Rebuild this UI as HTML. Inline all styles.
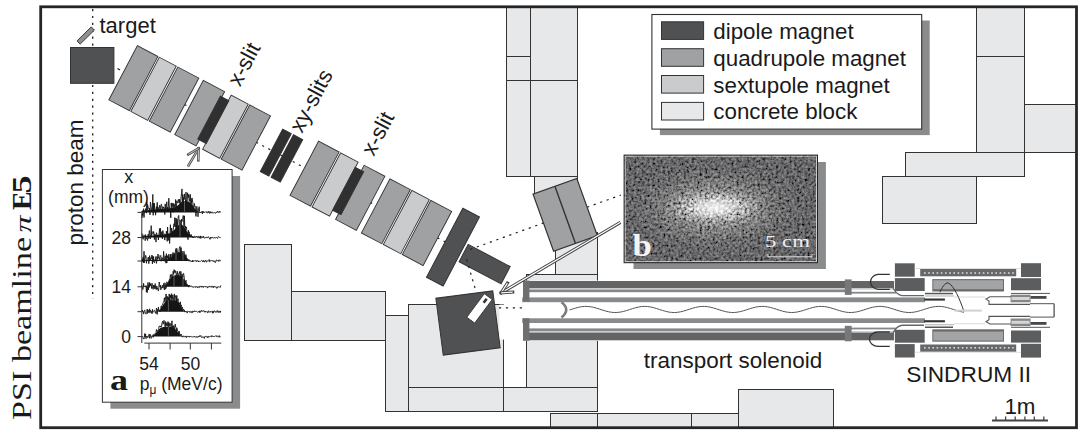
<!DOCTYPE html>
<html><head><meta charset="utf-8"><style>html,body{margin:0;padding:0;background:#fff;overflow:hidden}svg{display:block}</style></head>
<body><svg width="1085" height="436" viewBox="0 0 1085 436">
<rect width="1085" height="436" fill="#fff"/>
<rect x="506.5" y="7.5" width="24.0" height="49.0" fill="#e7e8ea" stroke="#333" stroke-width="1.0"/>
<rect x="506.5" y="56.5" width="24.0" height="24.0" fill="#e7e8ea" stroke="#333" stroke-width="1.0"/>
<rect x="530.5" y="7.5" width="47.0" height="73.0" fill="#e7e8ea" stroke="#333" stroke-width="1.0"/>
<rect x="506.5" y="80.5" width="24.0" height="96.0" fill="#e7e8ea" stroke="#333" stroke-width="1.0"/>
<rect x="530.5" y="80.5" width="47.0" height="96.0" fill="#e7e8ea" stroke="#333" stroke-width="1.0"/>
<rect x="534.5" y="176.5" width="43.0" height="20.0" fill="#e7e8ea" stroke="#333" stroke-width="1.0"/>
<rect x="555.5" y="232.5" width="42.0" height="42.0" fill="#e7e8ea" stroke="#333" stroke-width="1.0"/>
<rect x="526.5" y="274.5" width="71.0" height="113.0" fill="#e7e8ea" stroke="#333" stroke-width="1.0"/>
<rect x="244.5" y="244.5" width="47.0" height="96.0" fill="#e7e8ea" stroke="#333" stroke-width="1.0"/>
<rect x="291.5" y="291.5" width="94.0" height="49.0" fill="#e7e8ea" stroke="#333" stroke-width="1.0"/>
<rect x="385.5" y="315.5" width="23.0" height="96.0" fill="#e7e8ea" stroke="#333" stroke-width="1.0"/>
<rect x="408.5" y="304.5" width="95.0" height="83.0" fill="#e7e8ea" stroke="#333" stroke-width="1.0"/>
<rect x="408.5" y="387.5" width="95.0" height="24.0" fill="#e7e8ea" stroke="#333" stroke-width="1.0"/>
<rect x="503.5" y="387.5" width="94.0" height="24.0" fill="#e7e8ea" stroke="#333" stroke-width="1.0"/>
<rect x="550.5" y="413.5" width="47.0" height="15.0" fill="#e7e8ea" stroke="#333" stroke-width="1.0"/>
<rect x="597.5" y="413.5" width="94.0" height="15.0" fill="#e7e8ea" stroke="#333" stroke-width="1.0"/>
<rect x="691.5" y="413.5" width="47.0" height="15.0" fill="#e7e8ea" stroke="#333" stroke-width="1.0"/>
<rect x="738.5" y="389.5" width="95.0" height="39.0" fill="#e7e8ea" stroke="#333" stroke-width="1.0"/>
<rect x="976.5" y="7.5" width="48.0" height="49.0" fill="#e7e8ea" stroke="#333" stroke-width="1.0"/>
<rect x="976.5" y="56.5" width="48.0" height="96.0" fill="#e7e8ea" stroke="#333" stroke-width="1.0"/>
<rect x="1024.5" y="104.5" width="52.0" height="48.0" fill="#e7e8ea" stroke="#333" stroke-width="1.0"/>
<rect x="905.5" y="152.5" width="119.0" height="24.0" fill="#e7e8ea" stroke="#333" stroke-width="1.0"/>
<rect x="882.5" y="176.5" width="94.0" height="47.0" fill="#e7e8ea" stroke="#333" stroke-width="1.0"/>
<rect x="499.5" y="304.6" width="5" height="35" fill="#fff"/>
<line x1="92.7" y1="9" x2="92.7" y2="299" stroke="#222" stroke-width="1.3" stroke-dasharray="2.2 4.7"/>
<rect x="70.5" y="47.5" width="43.4" height="35.8" fill="#505153" stroke="#333" stroke-width="1"/>
<g transform="translate(85.7,35.5) rotate(-44.5)"><rect x="-10" y="-2.25" width="20" height="4.5" fill="#8e8f91" stroke="#333" stroke-width="0.9"/></g>
<line x1="117.5" y1="68.5" x2="120" y2="70" stroke="#222" stroke-width="1.2"/>
<g transform="translate(137.4,45.7) rotate(27.8)">
<line x1="150" y1="30" x2="205" y2="30" stroke="#222" stroke-width="1.2" stroke-dasharray="2.2 4.7"/>
<line x1="355" y1="30" x2="364" y2="30" stroke="#222" stroke-width="1.2" stroke-dasharray="2.2 4.7"/>
<line x1="69" y1="30" x2="75" y2="30" stroke="#222" stroke-width="1.2" stroke-dasharray="2.2 4.7"/>
<line x1="279" y1="30" x2="286" y2="30" stroke="#222" stroke-width="1.2" stroke-dasharray="2.2 4.7"/>
<rect x="0.00" y="0.00" width="23.20" height="61.20" fill="#a0a1a3" stroke="#333" stroke-width="0.9"/>
<rect x="24.80" y="0.00" width="19.10" height="61.20" fill="#cacbcd" stroke="#333" stroke-width="0.9"/>
<rect x="45.70" y="0.00" width="23.70" height="61.20" fill="#a0a1a3" stroke="#333" stroke-width="0.9"/>
<rect x="74.50" y="0.00" width="24.10" height="61.20" fill="#a0a1a3" stroke="#333" stroke-width="0.9"/>
<rect x="106.00" y="0.00" width="19.30" height="61.20" fill="#cacbcd" stroke="#333" stroke-width="0.9"/>
<rect x="127.00" y="0.00" width="23.50" height="61.20" fill="#a0a1a3" stroke="#333" stroke-width="0.9"/>
<rect x="204.80" y="0.00" width="23.20" height="61.20" fill="#a0a1a3" stroke="#333" stroke-width="0.9"/>
<rect x="229.70" y="0.00" width="19.80" height="61.20" fill="#cacbcd" stroke="#333" stroke-width="0.9"/>
<rect x="256.30" y="0.00" width="23.50" height="61.20" fill="#a0a1a3" stroke="#333" stroke-width="0.9"/>
<rect x="285.50" y="0.00" width="23.10" height="61.20" fill="#a0a1a3" stroke="#333" stroke-width="0.9"/>
<rect x="310.30" y="0.00" width="19.70" height="61.20" fill="#cacbcd" stroke="#333" stroke-width="0.9"/>
<rect x="331.70" y="0.00" width="23.60" height="61.20" fill="#a0a1a3" stroke="#333" stroke-width="0.9"/>
<rect x="97.00" y="6.00" width="9.50" height="48.50" fill="#303030" stroke="#333" stroke-width="1.0"/>
<rect x="249.40" y="6.00" width="9.50" height="48.50" fill="#303030" stroke="#333" stroke-width="1.0"/>
<rect x="167.40" y="6.00" width="9.70" height="48.00" fill="#303030" stroke="#333" stroke-width="1.0"/>
<rect x="179.60" y="6.00" width="10.40" height="48.00" fill="#303030" stroke="#333" stroke-width="1.0"/>
<rect x="363.70" y="-8.00" width="18.80" height="78.00" fill="#505153" stroke="#333" stroke-width="1.0"/>
<rect x="385.30" y="21.50" width="47.50" height="19.50" fill="#505153" stroke="#333" stroke-width="1.0"/>
</g>
<line x1="470.3" y1="249.4" x2="621" y2="195" stroke="#222" stroke-width="1.2" stroke-dasharray="2.2 4.7"/>
<line x1="466.6" y1="259.4" x2="475" y2="288" stroke="#222" stroke-width="1.2" stroke-dasharray="2.2 4.7"/>
<line x1="499" y1="307.8" x2="524" y2="307.8" stroke="#222" stroke-width="1.2" stroke-dasharray="2.2 4.7"/>
<g transform="translate(565.2,214.9) rotate(-19.8)"><rect x="-23.25" y="-30.35" width="46.5" height="60.7" fill="#a0a1a3" stroke="#333" stroke-width="1.2"/><line x1="0" y1="-30.35" x2="0" y2="30.35" stroke="#333" stroke-width="1.4"/></g>
<g transform="translate(468,323) rotate(-7.4)"><rect x="-28.7" y="-28.7" width="57.4" height="57.4" fill="#505153" stroke="#333" stroke-width="1"/></g>
<g transform="translate(479.5,308.4) rotate(-53.4)"><rect x="-14.7" y="-4.9" width="29.4" height="9.8" fill="#fff" stroke="#333" stroke-width="0.8"/><rect x="7" y="-1.3" width="5" height="2.6" fill="#333"/></g>
<rect x="522.0" y="280.6" width="372.0" height="60.4" fill="#fff"/>
<rect x="529.0" y="281.0" width="365.0" height="7.2" fill="#636466"/>
<rect x="529.0" y="288.2" width="365.0" height="1.4" fill="#c4c5c7"/>
<rect x="529.0" y="289.6" width="322.0" height="2.6" fill="#858688"/>
<rect x="851.0" y="291.8" width="45.0" height="1.8" fill="#858688"/>
<rect x="522.2" y="297.4" width="402.8" height="4.8" fill="#898a8c"/>
<rect x="523.0" y="280.6" width="6.4" height="20.9" fill="#6e6f71"/>
<rect x="844.8" y="279.4" width="6.8" height="15.5" fill="#77787a"/>
<rect x="522.2" y="318.3" width="402.8" height="4.7" fill="#898a8c"/>
<rect x="529.0" y="328.4" width="322.0" height="2.8" fill="#858688"/>
<rect x="851.0" y="327.6" width="45.0" height="1.8" fill="#858688"/>
<rect x="529.0" y="331.2" width="365.0" height="1.4" fill="#c4c5c7"/>
<rect x="529.0" y="332.6" width="365.0" height="7.7" fill="#636466"/>
<rect x="523.0" y="318.3" width="6.4" height="22.5" fill="#6e6f71"/>
<rect x="844.8" y="325.8" width="6.8" height="15.5" fill="#77787a"/>
<path d="M889.8,274.4 H878 A8.5,7.5 0 0 0 878,289.3 H889.8" fill="none" stroke="#333" stroke-width="1.3"/>
<path d="M889.8,332 H878 A8.5,7.2 0 0 0 878,346.4 H889.8" fill="none" stroke="#333" stroke-width="1.3"/>
<path d="M561.5,302.3 Q571,309.5 561.5,317.5" fill="none" stroke="#7a7b7d" stroke-width="2.6"/>
<polyline points="569.5,310.00 571.0,309.52 572.5,309.03 574.0,308.55 575.5,308.10 577.0,307.68 578.5,307.30 580.0,306.99 581.5,306.73 583.0,306.55 584.5,306.43 586.0,306.40 587.5,306.44 589.0,306.57 590.5,306.76 592.0,307.03 593.5,307.35 595.0,307.73 596.5,308.16 598.0,308.61 599.5,309.09 601.0,309.58 602.5,310.06 604.0,310.53 605.5,310.98 607.0,311.38 608.5,311.73 610.0,312.02 611.5,312.25 613.0,312.41 614.5,312.49 616.0,312.49 617.5,312.42 619.0,312.26 620.5,312.04 622.0,311.75 623.5,311.40 625.0,311.00 626.5,310.56 628.0,310.10 629.5,309.61 631.0,309.12 632.5,308.64 634.0,308.19 635.5,307.76 637.0,307.38 638.5,307.05 640.0,306.78 641.5,306.58 643.0,306.45 644.5,306.40 646.0,306.43 647.5,306.54 649.0,306.72 650.5,306.97 652.0,307.28 653.5,307.65 655.0,308.07 656.5,308.52 658.0,309.00 659.5,309.48 661.0,309.97 662.5,310.44 664.0,310.89 665.5,311.30 667.0,311.66 668.5,311.97 670.0,312.21 671.5,312.38 673.0,312.48 674.5,312.50 676.0,312.44 677.5,312.30 679.0,312.09 680.5,311.81 682.0,311.48 683.5,311.09 685.0,310.65 686.5,310.19 688.0,309.71 689.5,309.22 691.0,308.74 692.5,308.28 694.0,307.84 695.5,307.45 697.0,307.11 698.5,306.83 700.0,306.61 701.5,306.47 703.0,306.40 704.5,306.42 706.0,306.51 707.5,306.67 709.0,306.91 710.5,307.21 712.0,307.57 713.5,307.98 715.0,308.43 716.5,308.90 718.0,309.38 719.5,309.87 721.0,310.35 722.5,310.80 724.0,311.22 725.5,311.60 727.0,311.91 728.5,312.17 730.0,312.35 731.5,312.47 733.0,312.50 734.5,312.46 736.0,312.33 737.5,312.14 739.0,311.87 740.5,311.55 742.0,311.17 743.5,310.74 745.0,310.29 746.5,309.81 748.0,309.32 749.5,308.84 751.0,308.37 752.5,307.92 754.0,307.52 755.5,307.17 757.0,306.88 758.5,306.65 760.0,306.49 761.5,306.41 763.0,306.41 764.5,306.48 766.0,306.64 767.5,306.86 769.0,307.15 770.5,307.50 772.0,307.90 773.5,308.34 775.0,308.80 776.5,309.29 778.0,309.78 779.5,310.26 781.0,310.71 782.5,311.14 784.0,311.52 785.5,311.85 787.0,312.12 788.5,312.32 790.0,312.45 791.5,312.50 793.0,312.47 794.5,312.36 796.0,312.18 797.5,311.93 799.0,311.62 800.5,311.25 802.0,310.83 803.5,310.38 805.0,309.90 806.5,309.42 808.0,308.93 809.5,308.46 811.0,308.01 812.5,307.60 814.0,307.24 815.5,306.93 817.0,306.69 818.5,306.52 820.0,306.42 821.5,306.40 823.0,306.46 824.5,306.60 826.0,306.81 827.5,307.09 829.0,307.42 830.5,307.81 832.0,308.25 833.5,308.71 835.0,309.19 836.5,309.68 838.0,310.16 839.5,310.62 841.0,311.06 842.5,311.45 844.0,311.79 845.5,312.07 847.0,312.29 848.5,312.43 850.0,312.50 851.5,312.48 853.0,312.39 854.5,312.23 856.0,311.99 857.5,311.69 859.0,311.33 860.5,310.92 862.0,310.47 863.5,310.00 865.0,309.52 866.5,309.03 868.0,308.55 869.5,308.10 871.0,307.68 872.5,307.30 874.0,306.99 875.5,306.73 877.0,306.55 878.5,306.43 880.0,306.40 881.5,306.44 883.0,306.57 884.5,306.76 886.0,307.03 887.5,307.35 889.0,307.73 890.5,308.16 892.0,308.61 893.5,309.09 895.0,309.58 896.5,310.06 898.0,310.53 899.5,310.98 901.0,311.38 902.5,311.73 904.0,312.02 905.5,312.25 907.0,312.41 908.5,312.49 910.0,312.49 911.5,312.42 913.0,312.26 914.5,312.04 916.0,311.75 917.5,311.40 919.0,311.00 920.5,310.56 922.0,310.10 923.5,309.61 925.0,309.12 926.5,308.64 928.0,308.19 929.5,307.76 931.0,307.38 932.5,307.05 934.0,306.78 935.5,306.58 937.0,306.45 938.5,306.40 940.0,306.43 941.5,306.54 943.0,306.72 944.5,306.97 946.0,307.28 947.5,307.65 949.0,308.07 950.5,308.52 952.0,309.00 953.5,309.48 955.0,309.97 956.5,310.44 958.0,310.89 959.5,311.30 961.0,311.66 962.5,311.97 964.0,312.21" fill="none" stroke="#555" stroke-width="1"/>
<rect x="894.9" y="263.3" width="19.8" height="13.4" fill="#5c5d5f"/>
<rect x="894.9" y="344.1" width="19.8" height="13.4" fill="#5c5d5f"/>
<rect x="1021.0" y="263.2" width="20.0" height="13.8" fill="#5c5d5f"/>
<rect x="1021.0" y="343.8" width="20.0" height="13.8" fill="#5c5d5f"/>
<rect x="894.9" y="278.1" width="29.8" height="12.9" fill="#5c5d5f"/>
<rect x="894.9" y="329.8" width="29.8" height="12.9" fill="#5c5d5f"/>
<rect x="1011.0" y="278.2" width="30.0" height="12.1" fill="#5c5d5f"/>
<rect x="1011.0" y="330.5" width="30.0" height="12.1" fill="#5c5d5f"/>
<rect x="920.2" y="269.0" width="96.0" height="7.3" fill="#67686a"/>
<rect x="920.2" y="344.5" width="96.0" height="7.3" fill="#67686a"/>
<rect x="932.3" y="279.1" width="71.7" height="12.4" fill="#6a6b6d"/>
<rect x="932.3" y="329.3" width="71.7" height="12.4" fill="#6a6b6d"/>
<rect x="933.3" y="280.2" width="69.7" height="9.0" fill="#a3a4a6"/>
<rect x="933.3" y="331.6" width="69.7" height="9.0" fill="#a3a4a6"/>
<rect x="925.0" y="292.8" width="28.0" height="1.5" fill="#555"/>
<rect x="925.0" y="326.5" width="28.0" height="1.5" fill="#555"/>
<rect x="914.7" y="268.0" width="106.3" height="1.0" fill="#e0e0e0"/>
<rect x="914.7" y="351.8" width="106.3" height="1.0" fill="#e0e0e0"/>
<rect x="924.0" y="272.2" width="1.6" height="1.6" fill="#d8d8d8"/><rect x="924.0" y="347.0" width="1.6" height="1.6" fill="#d8d8d8"/><rect x="928.2" y="272.2" width="1.6" height="1.6" fill="#d8d8d8"/><rect x="928.2" y="347.0" width="1.6" height="1.6" fill="#d8d8d8"/><rect x="932.4" y="272.2" width="1.6" height="1.6" fill="#d8d8d8"/><rect x="932.4" y="347.0" width="1.6" height="1.6" fill="#d8d8d8"/><rect x="936.6" y="272.2" width="1.6" height="1.6" fill="#d8d8d8"/><rect x="936.6" y="347.0" width="1.6" height="1.6" fill="#d8d8d8"/><rect x="940.8" y="272.2" width="1.6" height="1.6" fill="#d8d8d8"/><rect x="940.8" y="347.0" width="1.6" height="1.6" fill="#d8d8d8"/><rect x="945.0" y="272.2" width="1.6" height="1.6" fill="#d8d8d8"/><rect x="945.0" y="347.0" width="1.6" height="1.6" fill="#d8d8d8"/><rect x="949.2" y="272.2" width="1.6" height="1.6" fill="#d8d8d8"/><rect x="949.2" y="347.0" width="1.6" height="1.6" fill="#d8d8d8"/><rect x="953.4" y="272.2" width="1.6" height="1.6" fill="#d8d8d8"/><rect x="953.4" y="347.0" width="1.6" height="1.6" fill="#d8d8d8"/><rect x="957.6" y="272.2" width="1.6" height="1.6" fill="#d8d8d8"/><rect x="957.6" y="347.0" width="1.6" height="1.6" fill="#d8d8d8"/><rect x="961.8" y="272.2" width="1.6" height="1.6" fill="#d8d8d8"/><rect x="961.8" y="347.0" width="1.6" height="1.6" fill="#d8d8d8"/><rect x="966.0" y="272.2" width="1.6" height="1.6" fill="#d8d8d8"/><rect x="966.0" y="347.0" width="1.6" height="1.6" fill="#d8d8d8"/><rect x="970.2" y="272.2" width="1.6" height="1.6" fill="#d8d8d8"/><rect x="970.2" y="347.0" width="1.6" height="1.6" fill="#d8d8d8"/><rect x="974.4" y="272.2" width="1.6" height="1.6" fill="#d8d8d8"/><rect x="974.4" y="347.0" width="1.6" height="1.6" fill="#d8d8d8"/><rect x="978.6" y="272.2" width="1.6" height="1.6" fill="#d8d8d8"/><rect x="978.6" y="347.0" width="1.6" height="1.6" fill="#d8d8d8"/><rect x="982.8" y="272.2" width="1.6" height="1.6" fill="#d8d8d8"/><rect x="982.8" y="347.0" width="1.6" height="1.6" fill="#d8d8d8"/><rect x="987.0" y="272.2" width="1.6" height="1.6" fill="#d8d8d8"/><rect x="987.0" y="347.0" width="1.6" height="1.6" fill="#d8d8d8"/><rect x="991.2" y="272.2" width="1.6" height="1.6" fill="#d8d8d8"/><rect x="991.2" y="347.0" width="1.6" height="1.6" fill="#d8d8d8"/><rect x="995.4" y="272.2" width="1.6" height="1.6" fill="#d8d8d8"/><rect x="995.4" y="347.0" width="1.6" height="1.6" fill="#d8d8d8"/><rect x="999.6" y="272.2" width="1.6" height="1.6" fill="#d8d8d8"/><rect x="999.6" y="347.0" width="1.6" height="1.6" fill="#d8d8d8"/><rect x="1003.8" y="272.2" width="1.6" height="1.6" fill="#d8d8d8"/><rect x="1003.8" y="347.0" width="1.6" height="1.6" fill="#d8d8d8"/><rect x="1008.0" y="272.2" width="1.6" height="1.6" fill="#d8d8d8"/><rect x="1008.0" y="347.0" width="1.6" height="1.6" fill="#d8d8d8"/><rect x="1012.2" y="272.2" width="1.6" height="1.6" fill="#d8d8d8"/><rect x="1012.2" y="347.0" width="1.6" height="1.6" fill="#d8d8d8"/>
<rect x="1010.6" y="294.7" width="20.0" height="7.6" fill="#858688"/>
<rect x="1010.6" y="318.5" width="20.0" height="7.6" fill="#858688"/>
<rect x="1011.5" y="297.0" width="18.1" height="3.0" fill="#d4d5d7"/>
<rect x="1011.5" y="320.8" width="18.1" height="3.0" fill="#d4d5d7"/>
<rect x="1030.6" y="296.0" width="15.9" height="2.8" fill="#47484a"/>
<rect x="1030.6" y="322.0" width="15.9" height="2.8" fill="#47484a"/>
<rect x="1011.0" y="292.9" width="39.0" height="1.1" fill="#666"/>
<rect x="1011.0" y="326.8" width="39.0" height="1.1" fill="#666"/>
<rect x="924.1" y="298.5" width="20.8" height="2.1" fill="#333"/>
<rect x="924.1" y="320.2" width="20.8" height="2.1" fill="#333"/>
<rect x="925.0" y="295.6" width="29.0" height="0.8" fill="#999"/>
<rect x="925.0" y="324.4" width="29.0" height="0.8" fill="#999"/>
<rect x="954.0" y="296.6" width="31.0" height="0.8" fill="#d0d0d0"/>
<rect x="954.0" y="323.4" width="31.0" height="0.8" fill="#d0d0d0"/>
<path d="M1011,296.8 H990 L986,299.0 L989,301.0 V304.4 H1030" fill="none" stroke="#555" stroke-width="1.1"/>
<line x1="1030" y1="303.7" x2="1054.1" y2="303.7" stroke="#555" stroke-width="1"/>
<path d="M1011,324.0 H990 L986,321.8 L989,319.8 V316.4 H1030" fill="none" stroke="#555" stroke-width="1.1"/>
<line x1="1030" y1="317.1" x2="1054.1" y2="317.1" stroke="#555" stroke-width="1"/>
<line x1="1054.1" y1="303.7" x2="1054.1" y2="317.1" stroke="#444" stroke-width="1.2"/>
<path d="M939.9,292.2 C943.5,284.5 946.5,281.8 949,283.3 C954,286.5 959.5,298 963.9,311.4" fill="none" stroke="#333" stroke-width="1"/>
<rect x="954.3" y="309.6" width="27.5" height="2.0" fill="#cfd0d2"/>
<path d="M893,288 Q897,295 902,295.6 H924" fill="none" stroke="#666" stroke-width="1.4"/>
<path d="M893,332.8 Q897,325.8 902,325.2 H924" fill="none" stroke="#666" stroke-width="1.4"/>
<rect x="633.5" y="162" width="192.4" height="107" fill="#8a8b8d"/>
<defs>
<filter id="nz" x="0" y="0" width="100%" height="100%"><feTurbulence type="fractalNoise" baseFrequency="0.38" numOctaves="2" seed="4" result="t"/>
<feColorMatrix in="t" type="matrix" values="1.7 0 0 0 -0.35  1.7 0 0 0 -0.35  1.7 0 0 0 -0.35  0 0 0 0 1" result="g"/>
<feBlend in="g" in2="SourceGraphic" mode="overlay" result="b"/><feComposite in="b" in2="SourceGraphic" operator="in"/></filter>
<radialGradient id="blob" cx="0.5" cy="0.5" r="0.5"><stop offset="0" stop-color="#a8a8a8"/><stop offset="0.5" stop-color="#8a8a8a" stop-opacity="0.7"/><stop offset="1" stop-color="#666668" stop-opacity="0"/></radialGradient><radialGradient id="core" cx="0.5" cy="0.5" r="0.5"><stop offset="0" stop-color="#f6f6f6"/><stop offset="0.35" stop-color="#dcdcdc" stop-opacity="0.85"/><stop offset="1" stop-color="#999" stop-opacity="0"/></radialGradient>
<clipPath id="pclip"><rect x="624.1" y="155.1" width="193.4" height="107.6"/></clipPath>
</defs>
<g clip-path="url(#pclip)"><g filter="url(#nz)"><rect x="624.1" y="155.1" width="193.4" height="107.6" fill="#666668"/><ellipse cx="714" cy="208" rx="95" ry="48" fill="url(#blob)"/><ellipse cx="715" cy="207.5" rx="55" ry="20" fill="url(#core)"/></g></g>
<rect x="625.1" y="156.1" width="191.4" height="105.6" fill="none" stroke="#e8e8e8" stroke-width="0.8"/>
<rect x="624.1" y="155.1" width="193.4" height="107.6" fill="none" stroke="#222" stroke-width="1"/>
<text transform="translate(632.5,255.7) scale(1.12,1)" font-family="Liberation Serif, serif" font-weight="bold" font-size="31" fill="#f4f4f4">b</text>
<text x="765" y="247.3" font-family="Liberation Serif, serif" font-size="16.5" fill="#eee" textLength="45" lengthAdjust="spacingAndGlyphs">5 cm</text>
<path d="M768,254 V256.8 H812 V254" fill="none" stroke="#ddd" stroke-width="1"/>
<line x1="620.5" y1="222.3" x2="503.8" y2="291.3" stroke="#444" stroke-width="3.2"/><line x1="620.5" y1="222.3" x2="503.8" y2="291.3" stroke="#fff" stroke-width="1.2"/><line x1="501.2" y1="292.8" x2="507.4" y2="283.1" stroke="#444" stroke-width="3.2" stroke-linecap="square"/><line x1="501.2" y1="292.8" x2="507.4" y2="283.1" stroke="#fff" stroke-width="1.2"/><line x1="501.2" y1="292.8" x2="512.7" y2="292.1" stroke="#444" stroke-width="3.2" stroke-linecap="square"/><line x1="501.2" y1="292.8" x2="512.7" y2="292.1" stroke="#fff" stroke-width="1.2"/>
<line x1="187.9" y1="166.5" x2="197.1" y2="150.9" stroke="#555" stroke-width="2.6"/><line x1="187.9" y1="166.5" x2="197.1" y2="150.9" stroke="#ccc" stroke-width="0.9"/><line x1="198.6" y1="148.3" x2="198.3" y2="160.3" stroke="#555" stroke-width="2.6" stroke-linecap="square"/><line x1="198.6" y1="148.3" x2="198.3" y2="160.3" stroke="#ccc" stroke-width="0.9"/><line x1="198.6" y1="148.3" x2="188.3" y2="154.4" stroke="#555" stroke-width="2.6" stroke-linecap="square"/><line x1="198.6" y1="148.3" x2="188.3" y2="154.4" stroke="#ccc" stroke-width="0.9"/>
<rect x="659.9" y="20.5" width="269.8" height="114.6" fill="#8a8b8d"/>
<rect x="651.9" y="14.5" width="269.8" height="114.6" fill="#fff" stroke="#333" stroke-width="1.1"/>
<rect x="661.5" y="21.8" width="42.1" height="17.6" fill="#505153" stroke="#333" stroke-width="1"/>
<text x="713.3" y="39.2" font-family="Liberation Sans, sans-serif" font-size="22.35" fill="#1a1a1a">dipole magnet</text>
<rect x="661.5" y="48.7" width="42.1" height="17.6" fill="#a0a1a3" stroke="#333" stroke-width="1"/>
<text x="713.3" y="65.8" font-family="Liberation Sans, sans-serif" font-size="22.35" fill="#1a1a1a">quadrupole magnet</text>
<rect x="661.5" y="75.5" width="42.1" height="17.6" fill="#cacbcd" stroke="#333" stroke-width="1"/>
<text x="713.3" y="92.5" font-family="Liberation Sans, sans-serif" font-size="22.35" fill="#1a1a1a">sextupole magnet</text>
<rect x="661.5" y="102.4" width="42.1" height="17.6" fill="#e7e8ea" stroke="#333" stroke-width="1"/>
<text x="713.3" y="119.1" font-family="Liberation Sans, sans-serif" font-size="22.35" fill="#1a1a1a">concrete block</text>
<rect x="110.4" y="176" width="129.7" height="232.7" fill="#8a8b8d"/>
<rect x="102.4" y="169.5" width="129.7" height="232.7" fill="#fff" stroke="#333" stroke-width="1"/>
<text x="128.7" y="183.2" font-family="Liberation Sans, sans-serif" font-size="18" text-anchor="middle" fill="#1a1a1a">x</text>
<text x="128.5" y="202.6" font-family="Liberation Sans, sans-serif" font-size="17.5" text-anchor="middle" fill="#1a1a1a">(mm)</text>
<text x="131" y="244.3" font-family="Liberation Sans, sans-serif" font-size="17.5" text-anchor="end" fill="#1a1a1a">28</text>
<text x="131" y="292.5" font-family="Liberation Sans, sans-serif" font-size="17.5" text-anchor="end" fill="#1a1a1a">14</text>
<text x="131" y="342.6" font-family="Liberation Sans, sans-serif" font-size="17.5" text-anchor="end" fill="#1a1a1a">0</text>
<text x="149.1" y="370" font-family="Liberation Sans, sans-serif" font-size="17.5" text-anchor="middle" fill="#1a1a1a">54</text>
<text x="190.6" y="370" font-family="Liberation Sans, sans-serif" font-size="17.5" text-anchor="middle" fill="#1a1a1a">50</text>
<text transform="translate(110,389.7) scale(1.2,1)" font-family="Liberation Serif, serif" font-weight="bold" font-size="30" fill="#1a1a1a">a</text>
<text x="139.7" y="389.7" font-family="Liberation Sans, sans-serif" font-size="17.5" fill="#1a1a1a">p<tspan font-size="12" dy="4">μ</tspan><tspan dy="-4"> (MeV/c)</tspan></text>
<line x1="141.8" y1="211" x2="141.8" y2="343" stroke="#333" stroke-width="1"/>
<line x1="144.3" y1="343.1" x2="221.3" y2="343.1" stroke="#333" stroke-width="1"/>
<line x1="149" y1="343" x2="149" y2="349.5" stroke="#333" stroke-width="1"/>
<line x1="170.1" y1="343" x2="170.1" y2="349.5" stroke="#333" stroke-width="1"/>
<line x1="190.3" y1="343" x2="190.3" y2="349.5" stroke="#333" stroke-width="1"/>
<line x1="211.4" y1="343" x2="211.4" y2="349.5" stroke="#333" stroke-width="1"/>
<line x1="137.5" y1="212.4" x2="141.8" y2="212.4" stroke="#333" stroke-width="1"/>
<polygon points="142,212.4 142.0,210.7 142.4,210.6 142.8,210.6 143.2,210.5 143.6,210.5 144.0,210.5 144.4,210.4 144.8,210.4 145.2,210.4 145.6,210.3 146.0,210.3 146.4,210.3 146.8,210.2 147.2,210.2 147.6,210.2 148.0,210.1 148.4,210.1 148.8,210.1 149.2,210.0 149.6,210.0 150.0,209.9 150.4,209.9 150.8,209.9 151.2,209.8 151.6,209.8 152.0,209.8 152.4,209.7 152.8,209.7 153.2,209.7 153.6,209.6 154.0,209.6 154.4,209.6 154.8,209.5 155.2,209.5 155.6,209.5 156.0,209.4 156.4,209.4 156.8,209.4 157.2,209.3 157.6,209.3 158.0,209.2 158.4,209.2 158.8,209.2 159.2,209.1 159.6,209.1 160.0,209.1 160.4,209.0 160.8,209.0 161.2,209.0 161.6,208.9 162.0,208.9 162.4,208.9 162.8,208.8 163.2,208.8 163.6,208.8 164.0,208.7 164.4,208.7 164.8,208.7 165.2,208.6 165.6,208.6 166.0,208.5 166.4,208.5 166.8,208.5 167.2,208.4 167.6,208.4 168.0,208.4 168.4,208.3 168.8,208.3 169.2,208.3 169.6,208.2 170.0,208.2 170.4,208.2 170.8,208.1 171.2,208.1 171.6,208.0 172.0,208.0 172.4,208.0 172.8,207.9 173.2,207.8 173.6,207.8 174.0,207.7 174.4,207.6 174.8,207.5 175.2,207.3 175.6,207.1 176.0,206.9 176.4,206.6 176.8,206.3 177.2,206.0 177.6,205.6 178.0,205.2 178.4,204.9 178.8,204.5 179.2,204.2 179.6,203.8 180.0,203.4 180.4,203.0 180.8,202.6 181.2,202.3 181.6,202.0 182.0,201.7 182.4,201.4 182.8,201.2 183.2,201.1 183.6,201.0 184.0,200.9 184.4,200.9 184.8,200.9 185.2,200.9 185.6,201.0 186.0,201.1 186.4,201.2 186.8,201.3 187.2,201.4 187.6,201.5 188.0,201.6 188.4,201.8 188.8,202.0 189.2,202.1 189.6,202.4 190.0,202.6 190.4,202.9 190.8,203.3 191.2,203.7 191.6,204.1 192.0,204.6 192.4,205.1 192.8,205.6 193.2,206.2 193.6,206.8 194.0,207.4 194.4,208.0 194.8,208.7 195.2,209.2 195.6,209.7 196.0,210.1 196.4,210.5 196.8,210.8 197.2,211.1 197.6,211.4 198.0,211.6 198.4,211.8 198.8,212.0 199.2,212.1 199.6,212.2 200.0,212.2 200.4,212.3 200.8,212.3 201.2,212.4 201.6,212.4 202.0,212.4 202.4,212.4 202.8,212.4 203.2,212.4 203.6,212.4 204.0,212.4 204.4,212.4 204.8,212.4 205.2,212.4 205.6,212.4 206.0,212.4 206.4,212.4 206.8,212.4 207.2,212.4 207.6,212.4 208.0,212.4 208.4,212.4 208.8,212.4 209.2,212.4 209.6,212.4 210.0,212.4 210.4,212.4 210.8,212.4 211.2,212.4 211.6,212.4 212.0,212.4 212.4,212.4 212.8,212.4 213.2,212.4 213.6,212.4 214.0,212.4 214.4,212.4 214.8,212.4 215.2,212.4 215.6,212.4 216.0,212.4 216.4,212.4 216.8,212.4 217.2,212.4 217.6,212.4 218.0,212.4 218.4,212.4 218.8,212.4 219.2,212.4 219.6,212.4 220.0,212.4 220.4,212.4 220.8,212.4 221.2,212.4" fill="#151515" stroke="none"/>
<polyline points="142.0,218.0 142.4,213.2 142.8,215.7 143.2,211.2 143.6,208.7 144.0,217.5 144.4,211.3 144.8,211.3 145.2,210.4 145.6,208.6 146.0,212.5 146.4,213.2 146.8,201.9 147.2,210.3 147.6,204.5 148.0,206.3 148.4,208.6 148.8,208.8 149.2,209.7 149.6,208.0 150.0,214.9 150.4,202.1 150.8,204.2 151.2,206.8 151.6,210.2 152.0,212.0 152.4,211.7 152.8,194.4 153.2,215.3 153.6,203.0 154.0,210.0 154.4,203.3 154.8,212.3 155.2,210.5 155.6,215.2 156.0,209.1 156.4,206.6 156.8,212.1 157.2,202.4 157.6,211.1 158.0,207.2 158.4,210.2 158.8,208.8 159.2,207.5 159.6,205.3 160.0,211.1 160.4,210.2 160.8,205.3 161.2,204.3 161.6,204.3 162.0,209.3 162.4,211.2 162.8,206.7 163.2,208.3 163.6,207.1 164.0,207.2 164.4,210.1 164.8,214.5 165.2,203.9 165.6,209.3 166.0,210.8 166.4,205.9 166.8,201.8 167.2,210.8 167.6,207.0 168.0,210.4 168.4,206.8 168.8,198.2 169.2,205.2 169.6,208.2 170.0,209.2 170.4,211.2 170.8,217.8 171.2,203.0 171.6,207.6 172.0,202.9 172.4,203.4 172.8,208.0 173.2,212.3 173.6,203.4 174.0,206.1 174.4,204.6 174.8,208.3 175.2,209.6 175.6,199.5 176.0,206.4 176.4,209.6 176.8,200.8 177.2,202.3 177.6,203.1 178.0,201.1 178.4,199.4 178.8,201.9 179.2,203.1 179.6,199.1 180.0,203.5 180.4,208.7 180.8,199.9 181.2,196.2 181.6,192.9 182.0,188.9 182.4,204.7 182.8,194.6 183.2,206.5 183.6,197.6 184.0,199.5 184.4,193.9 184.8,199.1 185.2,199.4 185.6,201.0 186.0,192.1 186.4,199.5 186.8,204.4 187.2,201.8 187.6,192.8 188.0,196.5 188.4,197.5 188.8,194.5 189.2,201.6 189.6,200.0 190.0,194.8 190.4,194.3 190.8,205.0 191.2,198.9 191.6,203.4 192.0,197.9 192.4,199.4 192.8,202.8 193.2,206.9 193.6,208.6 194.0,206.0 194.4,203.4 194.8,206.5 195.2,206.1 195.6,213.7 196.0,216.4 196.4,211.4 196.8,206.3 197.2,208.7 197.6,209.4 198.0,216.8 198.4,208.7 198.8,209.4 199.2,206.7 199.6,211.9 200.0,213.0 200.4,212.2 200.8,212.2 201.2,212.6 201.6,212.5 202.0,211.4 202.4,213.9 202.8,211.0 203.2,211.8 203.6,212.7 204.0,211.8 204.4,212.5 204.8,212.5 205.2,212.1 205.6,211.8 206.0,212.3 206.4,212.1 206.8,211.6 207.2,213.1 207.6,212.8 208.0,212.8 208.4,211.3 208.8,212.5 209.2,212.4 209.6,213.4 210.0,211.4 210.4,213.1 210.8,212.3 211.2,213.0 211.6,212.8 212.0,211.8 212.4,212.9 212.8,213.0 213.2,212.7 213.6,212.9 214.0,213.0 214.4,212.5 214.8,212.7 215.2,213.4 215.6,213.1 216.0,213.1 216.4,212.0 216.8,212.3 217.2,212.4 217.6,211.1 218.0,211.6 218.4,212.6 218.8,212.3 219.2,212.6 219.6,211.1 220.0,212.0 220.4,212.1 220.8,211.8" fill="none" stroke="#151515" stroke-width="0.9"/>
<line x1="184.5" y1="211.6" x2="184.5" y2="200.9" stroke="#aaa" stroke-width="0.5"/>
<line x1="137.5" y1="237.5" x2="141.8" y2="237.5" stroke="#333" stroke-width="1"/>
<polygon points="142,237.5 142.0,236.4 142.4,236.4 142.8,236.4 143.2,236.3 143.6,236.3 144.0,236.3 144.4,236.2 144.8,236.2 145.2,236.2 145.6,236.1 146.0,236.1 146.4,236.0 146.8,236.0 147.2,236.0 147.6,235.9 148.0,235.9 148.4,235.9 148.8,235.8 149.2,235.8 149.6,235.7 150.0,235.7 150.4,235.7 150.8,235.6 151.2,235.6 151.6,235.6 152.0,235.5 152.4,235.5 152.8,235.4 153.2,235.4 153.6,235.4 154.0,235.3 154.4,235.3 154.8,235.3 155.2,235.2 155.6,235.2 156.0,235.2 156.4,235.1 156.8,235.1 157.2,235.0 157.6,235.0 158.0,235.0 158.4,234.9 158.8,234.9 159.2,234.9 159.6,234.8 160.0,234.8 160.4,234.7 160.8,234.7 161.2,234.7 161.6,234.6 162.0,234.6 162.4,234.6 162.8,234.5 163.2,234.5 163.6,234.4 164.0,234.4 164.4,234.4 164.8,234.3 165.2,234.3 165.6,234.2 166.0,234.2 166.4,234.1 166.8,234.0 167.2,234.0 167.6,233.9 168.0,233.8 168.4,233.7 168.8,233.6 169.2,233.5 169.6,233.4 170.0,233.2 170.4,233.0 170.8,232.8 171.2,232.6 171.6,232.4 172.0,232.1 172.4,231.8 172.8,231.4 173.2,231.0 173.6,230.6 174.0,230.2 174.4,229.7 174.8,229.2 175.2,228.6 175.6,228.1 176.0,227.5 176.4,227.1 176.8,226.7 177.2,226.3 177.6,225.9 178.0,225.6 178.4,225.2 178.8,224.9 179.2,224.7 179.6,224.5 180.0,224.3 180.4,224.2 180.8,224.2 181.2,224.3 181.6,224.5 182.0,224.7 182.4,225.0 182.8,225.4 183.2,225.8 183.6,226.3 184.0,226.9 184.4,227.5 184.8,228.2 185.2,228.8 185.6,229.6 186.0,230.3 186.4,230.8 186.8,231.4 187.2,232.0 187.6,232.5 188.0,233.0 188.4,233.5 188.8,234.0 189.2,234.4 189.6,234.8 190.0,235.2 190.4,235.5 190.8,235.8 191.2,236.0 191.6,236.3 192.0,236.5 192.4,236.6 192.8,236.8 193.2,236.9 193.6,237.0 194.0,237.1 194.4,237.2 194.8,237.3 195.2,237.3 195.6,237.4 196.0,237.4 196.4,237.4 196.8,237.4 197.2,237.4 197.6,237.5 198.0,237.5 198.4,237.5 198.8,237.5 199.2,237.5 199.6,237.5 200.0,237.5 200.4,237.5 200.8,237.5 201.2,237.5 201.6,237.5 202.0,237.5 202.4,237.5 202.8,237.5 203.2,237.5 203.6,237.5 204.0,237.5 204.4,237.5 204.8,237.5 205.2,237.5 205.6,237.5 206.0,237.5 206.4,237.5 206.8,237.5 207.2,237.5 207.6,237.5 208.0,237.5 208.4,237.5 208.8,237.5 209.2,237.5 209.6,237.5 210.0,237.5 210.4,237.5 210.8,237.5 211.2,237.5 211.6,237.5 212.0,237.5 212.4,237.5 212.8,237.5 213.2,237.5 213.6,237.5 214.0,237.5 214.4,237.5 214.8,237.5 215.2,237.5 215.6,237.5 216.0,237.5 216.4,237.5 216.8,237.5 217.2,237.5 217.6,237.5 218.0,237.5 218.4,237.5 218.8,237.5 219.2,237.5 219.6,237.5 220.0,237.5 220.4,237.5 220.8,237.5 221.2,237.5" fill="#151515" stroke="none"/>
<polyline points="142.0,233.5 142.4,237.2 142.8,238.6 143.2,239.3 143.6,236.5 144.0,234.8 144.4,235.5 144.8,236.4 145.2,240.7 145.6,234.6 146.0,236.2 146.4,238.9 146.8,238.7 147.2,238.7 147.6,240.5 148.0,234.2 148.4,234.5 148.8,238.7 149.2,230.7 149.6,230.7 150.0,237.3 150.4,238.9 150.8,235.6 151.2,225.6 151.6,236.3 152.0,232.4 152.4,231.7 152.8,232.3 153.2,234.3 153.6,231.5 154.0,234.0 154.4,239.5 154.8,234.1 155.2,236.6 155.6,234.8 156.0,242.1 156.4,232.7 156.8,234.0 157.2,234.7 157.6,235.4 158.0,235.6 158.4,240.0 158.8,234.9 159.2,232.2 159.6,228.5 160.0,236.4 160.4,228.2 160.8,237.1 161.2,236.9 161.6,231.9 162.0,231.7 162.4,238.9 162.8,230.6 163.2,232.8 163.6,233.0 164.0,234.1 164.4,235.4 164.8,240.1 165.2,234.3 165.6,234.7 166.0,236.4 166.4,231.1 166.8,234.7 167.2,241.4 167.6,227.0 168.0,239.2 168.4,240.4 168.8,233.8 169.2,234.4 169.6,243.5 170.0,234.8 170.4,224.7 170.8,230.9 171.2,233.7 171.6,228.0 172.0,231.9 172.4,231.4 172.8,232.5 173.2,230.7 173.6,225.5 174.0,223.7 174.4,226.5 174.8,217.6 175.2,225.2 175.6,227.4 176.0,218.0 176.4,229.1 176.8,219.3 177.2,228.9 177.6,221.0 178.0,218.4 178.4,215.8 178.8,215.4 179.2,229.3 179.6,231.9 180.0,219.8 180.4,222.3 180.8,231.2 181.2,228.5 181.6,219.0 182.0,221.6 182.4,218.7 182.8,218.3 183.2,215.5 183.6,219.3 184.0,226.8 184.4,215.8 184.8,227.8 185.2,231.4 185.6,226.2 186.0,227.8 186.4,227.0 186.8,230.5 187.2,235.5 187.6,235.4 188.0,239.7 188.4,230.4 188.8,233.1 189.2,231.9 189.6,235.5 190.0,234.4 190.4,234.9 190.8,236.9 191.2,234.6 191.6,236.1 192.0,237.4 192.4,237.1 192.8,236.2 193.2,237.9 193.6,236.9 194.0,236.4 194.4,236.2 194.8,237.6 195.2,236.8 195.6,236.6 196.0,237.4 196.4,236.9 196.8,236.0 197.2,237.1 197.6,237.2 198.0,238.1 198.4,236.3 198.8,236.3 199.2,236.4 199.6,238.2 200.0,237.7 200.4,235.9 200.8,238.5 201.2,236.7 201.6,236.7 202.0,237.5 202.4,236.7 202.8,237.7 203.2,237.6 203.6,236.1 204.0,237.6 204.4,238.0 204.8,238.4 205.2,237.5 205.6,237.6 206.0,237.1 206.4,237.0 206.8,238.0 207.2,237.6 207.6,237.6 208.0,237.6 208.4,236.7 208.8,237.7 209.2,238.2 209.6,238.1 210.0,239.4 210.4,237.3 210.8,238.0 211.2,237.2 211.6,238.2 212.0,237.6 212.4,237.6 212.8,237.3 213.2,237.6 213.6,238.3 214.0,237.7 214.4,237.6 214.8,238.1 215.2,237.5 215.6,237.9 216.0,237.6 216.4,237.5 216.8,237.3 217.2,238.1 217.6,238.5 218.0,237.3 218.4,236.5 218.8,236.6 219.2,236.9 219.6,237.5 220.0,237.5 220.4,237.6 220.8,237.3" fill="none" stroke="#151515" stroke-width="0.9"/>
<line x1="180" y1="236.7" x2="180" y2="224.3" stroke="#aaa" stroke-width="0.5"/>
<line x1="137.5" y1="261.0" x2="141.8" y2="261.0" stroke="#333" stroke-width="1"/>
<polygon points="142,261.0 142.0,260.3 142.4,260.3 142.8,260.3 143.2,260.3 143.6,260.2 144.0,260.2 144.4,260.2 144.8,260.2 145.2,260.2 145.6,260.2 146.0,260.1 146.4,260.1 146.8,260.1 147.2,260.1 147.6,260.1 148.0,260.1 148.4,260.1 148.8,260.0 149.2,260.0 149.6,260.0 150.0,260.0 150.4,260.0 150.8,260.0 151.2,260.0 151.6,259.9 152.0,259.9 152.4,259.9 152.8,259.9 153.2,259.9 153.6,259.9 154.0,259.8 154.4,259.8 154.8,259.8 155.2,259.8 155.6,259.8 156.0,259.8 156.4,259.8 156.8,259.7 157.2,259.7 157.6,259.7 158.0,259.7 158.4,259.7 158.8,259.7 159.2,259.7 159.6,259.6 160.0,259.6 160.4,259.6 160.8,259.6 161.2,259.6 161.6,259.6 162.0,259.5 162.4,259.5 162.8,259.5 163.2,259.5 163.6,259.5 164.0,259.5 164.4,259.5 164.8,259.4 165.2,259.4 165.6,259.4 166.0,259.4 166.4,259.4 166.8,259.4 167.2,259.3 167.6,259.3 168.0,259.2 168.4,259.2 168.8,259.0 169.2,258.8 169.6,258.5 170.0,258.2 170.4,257.9 170.8,257.5 171.2,257.1 171.6,256.6 172.0,256.0 172.4,255.5 172.8,255.0 173.2,254.5 173.6,254.1 174.0,253.8 174.4,253.4 174.8,253.1 175.2,252.8 175.6,252.6 176.0,252.5 176.4,252.4 176.8,252.3 177.2,252.3 177.6,252.3 178.0,252.3 178.4,252.3 178.8,252.3 179.2,252.3 179.6,252.3 180.0,252.3 180.4,252.3 180.8,252.3 181.2,252.3 181.6,252.4 182.0,252.5 182.4,252.6 182.8,252.8 183.2,253.1 183.6,253.4 184.0,253.8 184.4,254.3 184.8,254.9 185.2,255.5 185.6,256.2 186.0,256.9 186.4,257.6 186.8,258.3 187.2,258.9 187.6,259.5 188.0,259.9 188.4,260.3 188.8,260.5 189.2,260.7 189.6,260.8 190.0,260.9 190.4,261.0 190.8,261.0 191.2,261.0 191.6,261.0 192.0,261.0 192.4,261.0 192.8,261.0 193.2,261.0 193.6,261.0 194.0,261.0 194.4,261.0 194.8,261.0 195.2,261.0 195.6,261.0 196.0,261.0 196.4,261.0 196.8,261.0 197.2,261.0 197.6,261.0 198.0,261.0 198.4,261.0 198.8,261.0 199.2,261.0 199.6,261.0 200.0,261.0 200.4,261.0 200.8,261.0 201.2,261.0 201.6,261.0 202.0,261.0 202.4,261.0 202.8,261.0 203.2,261.0 203.6,261.0 204.0,261.0 204.4,261.0 204.8,261.0 205.2,261.0 205.6,261.0 206.0,261.0 206.4,261.0 206.8,261.0 207.2,261.0 207.6,261.0 208.0,261.0 208.4,261.0 208.8,261.0 209.2,261.0 209.6,261.0 210.0,261.0 210.4,261.0 210.8,261.0 211.2,261.0 211.6,261.0 212.0,261.0 212.4,261.0 212.8,261.0 213.2,261.0 213.6,261.0 214.0,261.0 214.4,261.0 214.8,261.0 215.2,261.0 215.6,261.0 216.0,261.0 216.4,261.0 216.8,261.0 217.2,261.0 217.6,261.0 218.0,261.0 218.4,261.0 218.8,261.0 219.2,261.0 219.6,261.0 220.0,261.0 220.4,261.0 220.8,261.0 221.2,261.0" fill="#151515" stroke="none"/>
<polyline points="142.0,261.9 142.4,258.9 142.8,261.6 143.2,256.9 143.6,262.9 144.0,251.2 144.4,262.7 144.8,259.4 145.2,258.0 145.6,255.3 146.0,255.9 146.4,263.3 146.8,260.6 147.2,259.7 147.6,259.3 148.0,257.9 148.4,257.1 148.8,263.7 149.2,260.3 149.6,255.7 150.0,260.5 150.4,260.1 150.8,257.7 151.2,258.8 151.6,256.2 152.0,255.0 152.4,263.9 152.8,256.0 153.2,261.9 153.6,256.7 154.0,261.3 154.4,262.8 154.8,261.4 155.2,260.5 155.6,259.0 156.0,256.4 156.4,263.4 156.8,261.4 157.2,256.8 157.6,259.2 158.0,254.0 158.4,256.9 158.8,258.3 159.2,257.8 159.6,259.6 160.0,255.5 160.4,256.2 160.8,255.6 161.2,261.3 161.6,258.5 162.0,257.5 162.4,259.0 162.8,258.4 163.2,260.4 163.6,251.3 164.0,257.0 164.4,261.3 164.8,259.2 165.2,255.8 165.6,259.6 166.0,263.2 166.4,253.6 166.8,263.0 167.2,255.5 167.6,257.8 168.0,256.3 168.4,260.4 168.8,254.1 169.2,259.6 169.6,257.6 170.0,257.9 170.4,254.2 170.8,259.0 171.2,255.6 171.6,254.3 172.0,255.5 172.4,255.9 172.8,252.7 173.2,252.5 173.6,254.0 174.0,254.6 174.4,254.2 174.8,253.3 175.2,253.3 175.6,249.4 176.0,248.5 176.4,253.0 176.8,248.4 177.2,252.0 177.6,251.7 178.0,252.2 178.4,253.5 178.8,254.5 179.2,248.6 179.6,247.1 180.0,246.4 180.4,252.8 180.8,247.8 181.2,247.6 181.6,252.7 182.0,251.3 182.4,251.5 182.8,252.7 183.2,253.7 183.6,252.8 184.0,251.2 184.4,253.9 184.8,253.7 185.2,256.8 185.6,255.4 186.0,254.7 186.4,257.2 186.8,258.9 187.2,258.4 187.6,259.5 188.0,259.8 188.4,261.1 188.8,259.4 189.2,260.9 189.6,261.1 190.0,260.3 190.4,261.1 190.8,260.9 191.2,261.8 191.6,261.4 192.0,260.8 192.4,262.0 192.8,260.1 193.2,261.5 193.6,261.0 194.0,260.8 194.4,260.7 194.8,261.0 195.2,261.0 195.6,261.0 196.0,260.3 196.4,261.5 196.8,261.5 197.2,261.3 197.6,260.5 198.0,261.2 198.4,261.9 198.8,260.8 199.2,261.3 199.6,261.5 200.0,261.2 200.4,261.4 200.8,261.1 201.2,260.7 201.6,260.4 202.0,260.7 202.4,260.9 202.8,262.0 203.2,260.7 203.6,260.2 204.0,261.9 204.4,262.1 204.8,261.1 205.2,261.0 205.6,260.0 206.0,260.9 206.4,262.2 206.8,261.8 207.2,260.6 207.6,260.9 208.0,261.3 208.4,261.0 208.8,260.6 209.2,259.5 209.6,261.6 210.0,261.7 210.4,260.6 210.8,260.8 211.2,261.0 211.6,260.5 212.0,260.9 212.4,260.6 212.8,260.6 213.2,261.6 213.6,260.9 214.0,260.7 214.4,261.4 214.8,260.8 215.2,262.7 215.6,262.0 216.0,261.3 216.4,259.9 216.8,260.1 217.2,260.6 217.6,260.6 218.0,260.5 218.4,260.3 218.8,261.6 219.2,260.9 219.6,259.8 220.0,260.5 220.4,260.7 220.8,260.4" fill="none" stroke="#151515" stroke-width="0.9"/>
<line x1="176" y1="260.2" x2="176" y2="252.5" stroke="#aaa" stroke-width="0.5"/>
<line x1="183" y1="260.2" x2="183" y2="252.9" stroke="#aaa" stroke-width="0.5"/>
<line x1="137.5" y1="286.8" x2="141.8" y2="286.8" stroke="#333" stroke-width="1"/>
<polygon points="142,286.8 142.0,286.8 142.4,286.8 142.8,286.8 143.2,286.8 143.6,286.8 144.0,286.8 144.4,286.8 144.8,286.8 145.2,286.8 145.6,286.8 146.0,286.8 146.4,286.8 146.8,286.8 147.2,286.8 147.6,286.8 148.0,286.8 148.4,286.8 148.8,286.8 149.2,286.8 149.6,286.8 150.0,286.8 150.4,286.8 150.8,286.8 151.2,286.8 151.6,286.8 152.0,286.8 152.4,286.8 152.8,286.8 153.2,286.8 153.6,286.8 154.0,286.8 154.4,286.8 154.8,286.8 155.2,286.8 155.6,286.8 156.0,286.8 156.4,286.8 156.8,286.8 157.2,286.8 157.6,286.8 158.0,286.8 158.4,286.8 158.8,286.8 159.2,286.8 159.6,286.8 160.0,286.8 160.4,286.8 160.8,286.8 161.2,286.8 161.6,286.8 162.0,286.8 162.4,286.7 162.8,286.7 163.2,286.6 163.6,286.5 164.0,286.4 164.4,286.3 164.8,286.0 165.2,285.8 165.6,285.4 166.0,285.0 166.4,284.6 166.8,284.0 167.2,283.5 167.6,282.8 168.0,282.2 168.4,281.5 168.8,280.8 169.2,280.1 169.6,279.5 170.0,278.8 170.4,278.3 170.8,277.7 171.2,277.2 171.6,276.8 172.0,276.5 172.4,276.1 172.8,275.9 173.2,275.7 173.6,275.6 174.0,275.4 174.4,275.4 174.8,275.3 175.2,275.3 175.6,275.3 176.0,275.3 176.4,275.3 176.8,275.2 177.2,275.3 177.6,275.3 178.0,275.3 178.4,275.3 178.8,275.3 179.2,275.4 179.6,275.4 180.0,275.6 180.4,275.7 180.8,275.9 181.2,276.1 181.6,276.5 182.0,276.8 182.4,277.2 182.8,277.7 183.2,278.3 183.6,278.8 184.0,279.5 184.4,280.1 184.8,280.8 185.2,281.5 185.6,282.2 186.0,282.8 186.4,283.5 186.8,284.0 187.2,284.6 187.6,285.0 188.0,285.4 188.4,285.8 188.8,286.0 189.2,286.3 189.6,286.4 190.0,286.5 190.4,286.6 190.8,286.7 191.2,286.7 191.6,286.8 192.0,286.8 192.4,286.8 192.8,286.8 193.2,286.8 193.6,286.8 194.0,286.8 194.4,286.8 194.8,286.8 195.2,286.8 195.6,286.8 196.0,286.8 196.4,286.8 196.8,286.8 197.2,286.8 197.6,286.8 198.0,286.8 198.4,286.8 198.8,286.8 199.2,286.8 199.6,286.8 200.0,286.8 200.4,286.8 200.8,286.8 201.2,286.8 201.6,286.8 202.0,286.8 202.4,286.8 202.8,286.8 203.2,286.8 203.6,286.8 204.0,286.8 204.4,286.8 204.8,286.8 205.2,286.8 205.6,286.8 206.0,286.8 206.4,286.8 206.8,286.8 207.2,286.8 207.6,286.8 208.0,286.8 208.4,286.8 208.8,286.8 209.2,286.8 209.6,286.8 210.0,286.8 210.4,286.8 210.8,286.8 211.2,286.8 211.6,286.8 212.0,286.8 212.4,286.8 212.8,286.8 213.2,286.8 213.6,286.8 214.0,286.8 214.4,286.8 214.8,286.8 215.2,286.8 215.6,286.8 216.0,286.8 216.4,286.8 216.8,286.8 217.2,286.8 217.6,286.8 218.0,286.8 218.4,286.8 218.8,286.8 219.2,286.8 219.6,286.8 220.0,286.8 220.4,286.8 220.8,286.8 221.2,286.8" fill="#151515" stroke="none"/>
<polyline points="142.0,285.3 142.4,288.5 142.8,289.6 143.2,288.3 143.6,283.3 144.0,286.9 144.4,286.3 144.8,285.9 145.2,287.1 145.6,286.8 146.0,285.5 146.4,292.1 146.8,286.2 147.2,292.6 147.6,286.8 148.0,282.4 148.4,290.0 148.8,284.7 149.2,287.6 149.6,282.5 150.0,286.0 150.4,283.6 150.8,285.6 151.2,285.3 151.6,288.5 152.0,283.2 152.4,286.8 152.8,288.3 153.2,289.4 153.6,285.1 154.0,287.4 154.4,285.7 154.8,288.9 155.2,283.6 155.6,288.4 156.0,289.5 156.4,289.6 156.8,285.9 157.2,289.0 157.6,287.9 158.0,290.6 158.4,290.9 158.8,288.8 159.2,282.0 159.6,284.5 160.0,286.9 160.4,285.1 160.8,289.9 161.2,287.4 161.6,288.2 162.0,286.2 162.4,285.2 162.8,288.1 163.2,286.5 163.6,283.5 164.0,288.4 164.4,290.0 164.8,282.8 165.2,283.1 165.6,289.2 166.0,287.9 166.4,287.6 166.8,281.8 167.2,282.3 167.6,283.5 168.0,283.0 168.4,282.3 168.8,282.1 169.2,280.1 169.6,279.1 170.0,278.3 170.4,274.7 170.8,277.1 171.2,277.5 171.6,274.5 172.0,274.5 172.4,275.7 172.8,275.1 173.2,271.3 173.6,274.4 174.0,269.6 174.4,270.0 174.8,272.7 175.2,270.6 175.6,272.0 176.0,273.5 176.4,276.3 176.8,274.3 177.2,271.1 177.6,274.1 178.0,276.1 178.4,273.9 178.8,273.9 179.2,273.1 179.6,271.5 180.0,276.4 180.4,275.3 180.8,271.3 181.2,274.1 181.6,279.3 182.0,274.1 182.4,275.4 182.8,277.6 183.2,273.7 183.6,273.3 184.0,275.9 184.4,278.5 184.8,283.7 185.2,281.3 185.6,281.8 186.0,280.2 186.4,283.2 186.8,283.7 187.2,285.0 187.6,285.1 188.0,286.1 188.4,285.4 188.8,287.2 189.2,285.0 189.6,286.1 190.0,285.8 190.4,286.5 190.8,285.9 191.2,286.0 191.6,286.2 192.0,286.2 192.4,287.3 192.8,286.8 193.2,287.0 193.6,286.7 194.0,287.4 194.4,287.0 194.8,286.6 195.2,287.1 195.6,287.5 196.0,286.3 196.4,286.9 196.8,286.8 197.2,286.9 197.6,287.7 198.0,286.5 198.4,286.7 198.8,287.5 199.2,287.7 199.6,286.4 200.0,286.6 200.4,287.1 200.8,286.2 201.2,286.1 201.6,287.1 202.0,287.2 202.4,286.5 202.8,287.2 203.2,286.3 203.6,287.4 204.0,286.5 204.4,286.1 204.8,286.5 205.2,286.8 205.6,286.5 206.0,287.2 206.4,286.8 206.8,286.2 207.2,286.8 207.6,288.1 208.0,287.6 208.4,287.1 208.8,286.4 209.2,287.1 209.6,286.2 210.0,286.5 210.4,286.7 210.8,286.6 211.2,287.4 211.6,287.0 212.0,285.9 212.4,286.5 212.8,287.3 213.2,286.6 213.6,287.6 214.0,286.0 214.4,286.6 214.8,286.9 215.2,286.9 215.6,286.9 216.0,286.8 216.4,287.5 216.8,288.4 217.2,286.7 217.6,287.4 218.0,287.4 218.4,286.6 218.8,286.8 219.2,287.0 219.6,287.2 220.0,287.5 220.4,287.3 220.8,285.4" fill="none" stroke="#151515" stroke-width="0.9"/>
<line x1="174" y1="286.0" x2="174" y2="275.4" stroke="#aaa" stroke-width="0.5"/>
<line x1="183" y1="286.0" x2="183" y2="278.0" stroke="#aaa" stroke-width="0.5"/>
<line x1="137.5" y1="311.7" x2="141.8" y2="311.7" stroke="#333" stroke-width="1"/>
<polygon points="142,311.7 142.0,311.7 142.4,311.7 142.8,311.7 143.2,311.7 143.6,311.7 144.0,311.7 144.4,311.7 144.8,311.7 145.2,311.7 145.6,311.7 146.0,311.7 146.4,311.7 146.8,311.7 147.2,311.7 147.6,311.7 148.0,311.7 148.4,311.7 148.8,311.7 149.2,311.7 149.6,311.7 150.0,311.7 150.4,311.7 150.8,311.7 151.2,311.7 151.6,311.7 152.0,311.7 152.4,311.7 152.8,311.7 153.2,311.7 153.6,311.7 154.0,311.7 154.4,311.7 154.8,311.7 155.2,311.7 155.6,311.7 156.0,311.7 156.4,311.7 156.8,311.6 157.2,311.6 157.6,311.5 158.0,311.4 158.4,311.2 158.8,311.0 159.2,310.7 159.6,310.3 160.0,309.9 160.4,309.4 160.8,308.8 161.2,308.2 161.6,307.5 162.0,306.8 162.4,306.1 162.8,305.4 163.2,304.7 163.6,304.0 164.0,303.4 164.4,302.9 164.8,302.4 165.2,301.9 165.6,301.5 166.0,301.2 166.4,300.9 166.8,300.7 167.2,300.6 167.6,300.4 168.0,300.3 168.4,300.3 168.8,300.2 169.2,300.2 169.6,300.2 170.0,300.2 170.4,300.2 170.8,300.2 171.2,300.2 171.6,300.2 172.0,300.2 172.4,300.2 172.8,300.2 173.2,300.2 173.6,300.2 174.0,300.2 174.4,300.2 174.8,300.3 175.2,300.4 175.6,300.5 176.0,300.6 176.4,300.8 176.8,301.1 177.2,301.4 177.6,301.7 178.0,302.1 178.4,302.6 178.8,303.1 179.2,303.7 179.6,304.4 180.0,305.0 180.4,305.7 180.8,306.4 181.2,307.2 181.6,307.8 182.0,308.5 182.4,309.1 182.8,309.6 183.2,310.1 183.6,310.5 184.0,310.8 184.4,311.1 184.8,311.3 185.2,311.4 185.6,311.5 186.0,311.6 186.4,311.6 186.8,311.7 187.2,311.7 187.6,311.7 188.0,311.7 188.4,311.7 188.8,311.7 189.2,311.7 189.6,311.7 190.0,311.7 190.4,311.7 190.8,311.7 191.2,311.7 191.6,311.7 192.0,311.7 192.4,311.7 192.8,311.7 193.2,311.7 193.6,311.7 194.0,311.7 194.4,311.7 194.8,311.7 195.2,311.7 195.6,311.7 196.0,311.7 196.4,311.7 196.8,311.7 197.2,311.7 197.6,311.7 198.0,311.7 198.4,311.7 198.8,311.7 199.2,311.7 199.6,311.7 200.0,311.7 200.4,311.7 200.8,311.7 201.2,311.7 201.6,311.7 202.0,311.7 202.4,311.7 202.8,311.7 203.2,311.7 203.6,311.7 204.0,311.7 204.4,311.7 204.8,311.7 205.2,311.7 205.6,311.7 206.0,311.7 206.4,311.7 206.8,311.7 207.2,311.7 207.6,311.7 208.0,311.7 208.4,311.7 208.8,311.7 209.2,311.7 209.6,311.7 210.0,311.7 210.4,311.7 210.8,311.7 211.2,311.7 211.6,311.7 212.0,311.7 212.4,311.7 212.8,311.7 213.2,311.7 213.6,311.7 214.0,311.7 214.4,311.7 214.8,311.7 215.2,311.7 215.6,311.7 216.0,311.7 216.4,311.7 216.8,311.7 217.2,311.7 217.6,311.7 218.0,311.7 218.4,311.7 218.8,311.7 219.2,311.7 219.6,311.7 220.0,311.7 220.4,311.7 220.8,311.7 221.2,311.7" fill="#151515" stroke="none"/>
<polyline points="142.0,311.3 142.4,310.1 142.8,312.1 143.2,311.6 143.6,314.1 144.0,311.6 144.4,310.6 144.8,309.9 145.2,313.3 145.6,313.4 146.0,314.2 146.4,312.6 146.8,311.9 147.2,309.1 147.6,313.5 148.0,309.9 148.4,310.2 148.8,312.6 149.2,312.8 149.6,308.8 150.0,312.4 150.4,310.4 150.8,311.5 151.2,312.8 151.6,311.4 152.0,313.8 152.4,309.3 152.8,312.5 153.2,311.7 153.6,311.4 154.0,310.5 154.4,310.3 154.8,310.6 155.2,312.4 155.6,311.9 156.0,313.6 156.4,308.1 156.8,310.3 157.2,314.4 157.6,309.5 158.0,310.9 158.4,307.0 158.8,310.5 159.2,311.5 159.6,309.8 160.0,310.3 160.4,311.4 160.8,308.5 161.2,306.2 161.6,308.8 162.0,305.3 162.4,304.9 162.8,303.7 163.2,302.8 163.6,301.9 164.0,300.9 164.4,297.7 164.8,302.1 165.2,301.6 165.6,296.6 166.0,293.9 166.4,295.2 166.8,303.7 167.2,296.3 167.6,298.0 168.0,302.8 168.4,297.5 168.8,301.6 169.2,293.9 169.6,302.4 170.0,294.7 170.4,297.6 170.8,295.1 171.2,302.0 171.6,293.6 172.0,298.8 172.4,299.4 172.8,294.9 173.2,300.7 173.6,299.7 174.0,296.4 174.4,293.9 174.8,300.8 175.2,297.8 175.6,295.6 176.0,296.4 176.4,301.2 176.8,295.4 177.2,301.9 177.6,300.5 178.0,298.7 178.4,301.3 178.8,304.4 179.2,304.4 179.6,302.8 180.0,304.5 180.4,301.8 180.8,307.0 181.2,304.9 181.6,306.6 182.0,308.3 182.4,307.2 182.8,309.2 183.2,309.8 183.6,309.1 184.0,310.4 184.4,310.0 184.8,312.1 185.2,311.1 185.6,311.6 186.0,311.4 186.4,311.3 186.8,311.9 187.2,313.1 187.6,311.3 188.0,311.4 188.4,311.5 188.8,311.2 189.2,311.6 189.6,311.4 190.0,312.6 190.4,312.1 190.8,311.3 191.2,311.5 191.6,311.6 192.0,313.1 192.4,312.1 192.8,311.0 193.2,311.0 193.6,311.8 194.0,312.1 194.4,311.6 194.8,310.7 195.2,311.5 195.6,311.5 196.0,311.4 196.4,311.3 196.8,311.6 197.2,312.1 197.6,312.2 198.0,311.8 198.4,311.5 198.8,312.2 199.2,311.2 199.6,312.5 200.0,310.7 200.4,312.3 200.8,311.9 201.2,311.6 201.6,310.3 202.0,311.3 202.4,311.1 202.8,311.2 203.2,310.9 203.6,310.9 204.0,310.5 204.4,311.9 204.8,312.2 205.2,311.1 205.6,312.0 206.0,312.2 206.4,311.7 206.8,312.0 207.2,311.6 207.6,312.7 208.0,312.9 208.4,310.8 208.8,311.2 209.2,311.6 209.6,312.1 210.0,312.4 210.4,311.4 210.8,312.2 211.2,311.6 211.6,311.9 212.0,311.4 212.4,311.2 212.8,313.3 213.2,311.4 213.6,312.6 214.0,311.2 214.4,310.7 214.8,311.6 215.2,311.8 215.6,311.5 216.0,312.5 216.4,311.8 216.8,311.9 217.2,310.5 217.6,311.8 218.0,312.0 218.4,312.6 218.8,311.0 219.2,311.0 219.6,311.6 220.0,312.7 220.4,310.9 220.8,312.0" fill="none" stroke="#151515" stroke-width="0.9"/>
<line x1="168.4" y1="310.9" x2="168.4" y2="300.3" stroke="#aaa" stroke-width="0.5"/>
<line x1="137.5" y1="336.6" x2="141.8" y2="336.6" stroke="#333" stroke-width="1"/>
<polygon points="142,336.6 142.0,336.6 142.4,336.6 142.8,336.6 143.2,336.6 143.6,336.6 144.0,336.6 144.4,336.6 144.8,336.6 145.2,336.6 145.6,336.6 146.0,336.6 146.4,336.6 146.8,336.6 147.2,336.6 147.6,336.6 148.0,336.6 148.4,336.6 148.8,336.6 149.2,336.6 149.6,336.6 150.0,336.6 150.4,336.5 150.8,336.5 151.2,336.4 151.6,336.3 152.0,336.2 152.4,336.1 152.8,335.9 153.2,335.7 153.6,335.4 154.0,335.1 154.4,334.7 154.8,334.3 155.2,333.9 155.6,333.4 156.0,332.9 156.4,332.4 156.8,331.9 157.2,331.4 157.6,330.9 158.0,330.4 158.4,329.9 158.8,329.5 159.2,329.1 159.6,328.7 160.0,328.4 160.4,328.1 160.8,327.9 161.2,327.7 161.6,327.5 162.0,327.4 162.4,327.2 162.8,327.2 163.2,327.1 163.6,327.0 164.0,327.0 164.4,327.0 164.8,327.0 165.2,326.9 165.6,326.9 166.0,326.9 166.4,326.9 166.8,326.9 167.2,326.9 167.6,326.9 168.0,326.9 168.4,326.9 168.8,326.9 169.2,326.9 169.6,327.0 170.0,327.0 170.4,327.0 170.8,327.0 171.2,327.1 171.6,327.2 172.0,327.2 172.4,327.4 172.8,327.5 173.2,327.7 173.6,327.9 174.0,328.1 174.4,328.4 174.8,328.7 175.2,329.1 175.6,329.5 176.0,329.9 176.4,330.4 176.8,330.9 177.2,331.4 177.6,331.9 178.0,332.4 178.4,332.9 178.8,333.4 179.2,333.9 179.6,334.3 180.0,334.7 180.4,335.1 180.8,335.4 181.2,335.7 181.6,335.9 182.0,336.1 182.4,336.2 182.8,336.3 183.2,336.4 183.6,336.5 184.0,336.5 184.4,336.6 184.8,336.6 185.2,336.6 185.6,336.6 186.0,336.6 186.4,336.6 186.8,336.6 187.2,336.6 187.6,336.6 188.0,336.6 188.4,336.6 188.8,336.6 189.2,336.6 189.6,336.6 190.0,336.6 190.4,336.6 190.8,336.6 191.2,336.6 191.6,336.6 192.0,336.6 192.4,336.6 192.8,336.6 193.2,336.6 193.6,336.6 194.0,336.6 194.4,336.6 194.8,336.6 195.2,336.6 195.6,336.6 196.0,336.6 196.4,336.6 196.8,336.6 197.2,336.6 197.6,336.6 198.0,336.6 198.4,336.6 198.8,336.6 199.2,336.6 199.6,336.6 200.0,336.6 200.4,336.6 200.8,336.6 201.2,336.6 201.6,336.6 202.0,336.6 202.4,336.6 202.8,336.6 203.2,336.6 203.6,336.6 204.0,336.6 204.4,336.6 204.8,336.6 205.2,336.6 205.6,336.6 206.0,336.6 206.4,336.6 206.8,336.6 207.2,336.6 207.6,336.6 208.0,336.6 208.4,336.6 208.8,336.6 209.2,336.6 209.6,336.6 210.0,336.6 210.4,336.6 210.8,336.6 211.2,336.6 211.6,336.6 212.0,336.6 212.4,336.6 212.8,336.6 213.2,336.6 213.6,336.6 214.0,336.6 214.4,336.6 214.8,336.6 215.2,336.6 215.6,336.6 216.0,336.6 216.4,336.6 216.8,336.6 217.2,336.6 217.6,336.6 218.0,336.6 218.4,336.6 218.8,336.6 219.2,336.6 219.6,336.6 220.0,336.6 220.4,336.6 220.8,336.6 221.2,336.6" fill="#151515" stroke="none"/>
<polyline points="142.0,336.8 142.4,336.4 142.8,336.3 143.2,338.6 143.6,338.5 144.0,339.1 144.4,337.4 144.8,333.5 145.2,336.9 145.6,334.1 146.0,338.7 146.4,336.2 146.8,336.8 147.2,336.2 147.6,337.5 148.0,337.6 148.4,335.6 148.8,335.6 149.2,334.0 149.6,338.3 150.0,335.7 150.4,334.5 150.8,336.9 151.2,338.4 151.6,337.6 152.0,335.6 152.4,335.3 152.8,335.5 153.2,337.3 153.6,334.5 154.0,334.7 154.4,334.1 154.8,333.9 155.2,334.2 155.6,334.4 156.0,333.0 156.4,329.5 156.8,331.1 157.2,330.8 157.6,330.6 158.0,330.1 158.4,329.5 158.8,328.2 159.2,325.9 159.6,326.2 160.0,326.9 160.4,327.0 160.8,325.9 161.2,327.2 161.6,326.4 162.0,322.9 162.4,321.9 162.8,321.1 163.2,324.3 163.6,323.3 164.0,320.3 164.4,323.9 164.8,324.2 165.2,327.1 165.6,321.6 166.0,326.2 166.4,325.7 166.8,322.7 167.2,326.4 167.6,325.3 168.0,321.5 168.4,329.5 168.8,322.6 169.2,326.6 169.6,323.2 170.0,323.3 170.4,323.5 170.8,326.2 171.2,328.5 171.6,323.3 172.0,320.8 172.4,327.8 172.8,325.9 173.2,329.2 173.6,325.7 174.0,327.6 174.4,329.7 174.8,327.0 175.2,324.1 175.6,327.0 176.0,327.2 176.4,331.6 176.8,327.8 177.2,329.1 177.6,331.1 178.0,330.8 178.4,331.6 178.8,334.2 179.2,331.2 179.6,334.2 180.0,334.7 180.4,334.4 180.8,335.6 181.2,334.2 181.6,335.4 182.0,336.4 182.4,337.1 182.8,336.1 183.2,335.8 183.6,336.2 184.0,337.2 184.4,336.5 184.8,336.1 185.2,336.1 185.6,336.7 186.0,336.0 186.4,337.8 186.8,337.2 187.2,335.9 187.6,336.3 188.0,336.9 188.4,336.6 188.8,336.8 189.2,336.2 189.6,337.2 190.0,336.1 190.4,336.4 190.8,336.5 191.2,336.8 191.6,336.7 192.0,337.0 192.4,336.8 192.8,337.1 193.2,337.1 193.6,336.8 194.0,336.7 194.4,336.1 194.8,337.0 195.2,336.9 195.6,337.3 196.0,336.5 196.4,336.6 196.8,337.4 197.2,337.2 197.6,336.6 198.0,337.3 198.4,336.5 198.8,336.3 199.2,336.9 199.6,335.6 200.0,336.4 200.4,336.2 200.8,335.5 201.2,337.0 201.6,337.5 202.0,337.8 202.4,337.0 202.8,336.5 203.2,336.8 203.6,337.3 204.0,336.8 204.4,338.4 204.8,336.8 205.2,336.3 205.6,336.6 206.0,336.0 206.4,336.1 206.8,336.5 207.2,337.4 207.6,337.9 208.0,336.3 208.4,337.3 208.8,336.4 209.2,336.7 209.6,336.7 210.0,336.5 210.4,336.4 210.8,335.9 211.2,336.8 211.6,336.7 212.0,335.5 212.4,336.5 212.8,336.5 213.2,336.6 213.6,336.5 214.0,336.1 214.4,336.7 214.8,336.3 215.2,335.8 215.6,335.9 216.0,336.4 216.4,336.6 216.8,335.6 217.2,336.2 217.6,336.7 218.0,336.7 218.4,336.8 218.8,336.9 219.2,335.5 219.6,337.0 220.0,337.3 220.4,336.8 220.8,336.6" fill="none" stroke="#151515" stroke-width="0.9"/>
<line x1="168.4" y1="335.8" x2="168.4" y2="326.9" stroke="#aaa" stroke-width="0.5"/>
<text x="99.5" y="33.3" font-family="Liberation Sans, sans-serif" font-size="22" fill="#1a1a1a">target</text>
<text transform="translate(83,245.6) rotate(-90)" font-family="Liberation Sans, sans-serif" font-size="22.45" fill="#1a1a1a">proton beam</text>
<text transform="translate(239.9,87.6) rotate(-62.2)" font-family="Liberation Sans, sans-serif" font-size="22" fill="#1a1a1a">x-slit</text>
<text transform="translate(302,134) rotate(-62.2)" font-family="Liberation Sans, sans-serif" font-size="22" fill="#1a1a1a">xy-slits</text>
<text transform="translate(373.8,156.9) rotate(-62.2)" font-family="Liberation Sans, sans-serif" font-size="22" fill="#1a1a1a">x-slit</text>
<text x="643.8" y="368" font-family="Liberation Sans, sans-serif" font-size="22.45" fill="#1a1a1a">transport solenoid</text>
<text x="906.3" y="382" font-family="Liberation Sans, sans-serif" font-size="22.7" fill="#1a1a1a">SINDRUM II</text>
<text x="1004.4" y="413.7" font-family="Liberation Sans, sans-serif" font-size="22.4" fill="#1a1a1a">1m</text>
<path d="M992,420.5 H1048" stroke="#444" stroke-width="1.8"/>
<line x1="996" y1="416.4" x2="996" y2="420.5" stroke="#444" stroke-width="1.3"/>
<line x1="1005.6" y1="416.4" x2="1005.6" y2="420.5" stroke="#444" stroke-width="1.3"/>
<line x1="1015.2" y1="416.4" x2="1015.2" y2="420.5" stroke="#444" stroke-width="1.3"/>
<line x1="1024.9" y1="416.4" x2="1024.9" y2="420.5" stroke="#444" stroke-width="1.3"/>
<line x1="1034.3" y1="416.4" x2="1034.3" y2="420.5" stroke="#444" stroke-width="1.3"/>
<line x1="1043.8" y1="416.4" x2="1043.8" y2="420.5" stroke="#444" stroke-width="1.3"/>
<g transform="translate(30.8,420) rotate(-90)" font-family="Liberation Serif, serif" font-size="28" fill="#1a1a1a"><text transform="scale(1.22,1)" x="0" y="0">PSI beamline</text><text transform="translate(187.5,0) scale(1.42,1)" font-style="italic" font-size="24">π</text><text transform="translate(210,0)" font-weight="bold">E</text><text transform="translate(226.5,0) scale(1.3,1)" font-weight="bold">5</text></g>
<rect x="40.7" y="6.8" width="1035.8" height="420.9" fill="none" stroke="#262626" stroke-width="2.8"/>
</svg></body></html>
